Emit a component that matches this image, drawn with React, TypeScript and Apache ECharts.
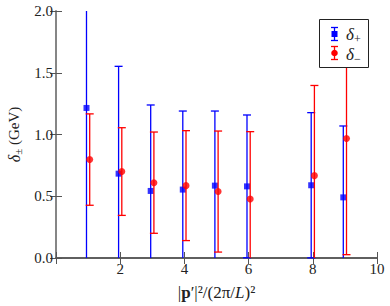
import React, { useEffect, useRef } from "react";
import * as echarts from "echarts";

const momenta = [1, 2, 3, 4, 5, 6, 8, 9];
const deltaPlus = [1.215, 0.683, 0.543, 0.554, 0.586, 0.58, 0.589, 0.491];
const deltaPlusErr = [1.3, 0.869, 0.696, 0.636, 0.604, 0.578, 0.588, 0.578];
const deltaMinus = [0.797, 0.7, 0.61, 0.586, 0.538, 0.478, 0.667, 0.967];
const deltaMinusErr = [0.37, 0.355, 0.41, 0.445, 0.49, 0.545, 0.73, 0.94];
const xTicks = [0, 2, 4, 6, 8, 10];
const yTicks = [0, 0.5, 1.0, 1.5, 2.0];

const FONT = "Liberation Serif";
const BLUE = "#0000ff";
const RED = "#ff0000";
const AXIS = "#555555";
const TEXT = "#222222";
const SHIFT = 0.05;

const Y_MIN = yTicks[0];
const Y_MAX = yTicks[yTicks.length - 1];

function errorBars(color: string) {
  return (params: any, api: any) => {
    const x = api.value(0);
    const y = api.value(1);
    const e = api.value(2);
    const loRaw = y - e;
    const hiRaw = y + e;
    const lo = Math.max(loRaw, Y_MIN);
    const hi = Math.min(hiRaw, Y_MAX);
    const pLo = api.coord([x, lo]);
    const pHi = api.coord([x, hi]);
    const cx = pLo[0];
    const hw = 4;
    const st = { stroke: color, lineWidth: 1.3 };
    const children: any[] = [
      { type: "line", shape: { x1: cx, y1: pLo[1], x2: cx, y2: pHi[1] }, style: st },
    ];
    if (loRaw >= Y_MIN) {
      children.push({ type: "line", shape: { x1: cx - hw, y1: pLo[1], x2: cx + hw, y2: pLo[1] }, style: st });
    }
    if (hiRaw <= Y_MAX) {
      children.push({ type: "line", shape: { x1: cx - hw, y1: pHi[1], x2: cx + hw, y2: pHi[1] }, style: st });
    }
    return { type: "group", children };
  };
}

export default function App() {
  const ref = useRef<HTMLDivElement>(null);
  useEffect(() => {
    if (!ref.current) return;
    const chart = echarts.init(ref.current, undefined, { renderer: "svg" });

    const plusData = momenta.map((m, i) => [m - SHIFT, deltaPlus[i], deltaPlusErr[i]]);
    const minusData = momenta.map((m, i) => [m + SHIFT, deltaMinus[i], deltaMinusErr[i]]);

    const axisLine = { show: true, lineStyle: { color: AXIS, width: 1.5 } };
    const tick = { show: true, inside: true, length: 6, lineStyle: { color: AXIS, width: 1 } };

    const Z = 100;
    const legendText = (txt: string, y: number) => ({
      type: "text",
      z: Z,
      x: 346,
      y,
      style: {
        text: txt,
        verticalAlign: "middle",
        rich: {
          d: { fontFamily: FONT, fontSize: 17, fontStyle: "italic", fill: TEXT },
          s: { fontFamily: FONT, fontSize: 12, fill: TEXT, padding: [9, 0, 0, 0] },
        },
      },
    });

    chart.setOption({
      animation: false,
      backgroundColor: "#ffffff",
      textStyle: { fontFamily: FONT },
      grid: { left: 56, right: 13, top: 11, bottom: 48, outerBoundsMode: "none", containLabel: false },
      xAxis: [
        {
          type: "value",
          min: xTicks[0],
          max: xTicks[xTicks.length - 1],
          interval: 2,
          axisLine,
          axisTick: tick,
          splitLine: { show: false },
          axisLabel: {
            fontFamily: FONT,
            fontSize: 15,
            color: TEXT,
            margin: 3,
            formatter: (v: number) => (v === 0 ? "" : String(v)),
          },
          name: "|{b|p}′|²/(2π/{i|L})²",
          nameLocation: "middle",
          nameGap: 26,
          nameTextStyle: {
            fontFamily: FONT,
            fontSize: 17,
            color: TEXT,
            rich: {
              b: { fontFamily: FONT, fontSize: 17, fontWeight: "bold", color: TEXT },
              i: { fontFamily: FONT, fontSize: 17, fontStyle: "italic", color: TEXT },
            },
          },
        },
        {
          type: "value",
          position: "top",
          min: xTicks[0],
          max: xTicks[xTicks.length - 1],
          interval: 2,
          axisLine,
          axisTick: tick,
          axisLabel: { show: false },
          splitLine: { show: false },
        },
      ],
      yAxis: [
        {
          type: "value",
          min: Y_MIN,
          max: Y_MAX,
          interval: 0.5,
          axisLine,
          axisTick: tick,
          splitLine: { show: false },
          axisLabel: {
            fontFamily: FONT,
            fontSize: 15,
            color: TEXT,
            margin: 3,
            formatter: (v: number) => v.toFixed(1),
          },
          name: "{d|δ}{s|±} (GeV)",
          nameLocation: "middle",
          nameRotate: 90,
          nameGap: 33,
          nameTextStyle: {
            fontFamily: FONT,
            fontSize: 15,
            color: TEXT,
            rich: {
              d: { fontFamily: FONT, fontSize: 16, fontStyle: "italic", color: TEXT },
              s: { fontFamily: FONT, fontSize: 11, color: TEXT, padding: [7, 0, 0, 0] },
            },
          },
        },
        {
          type: "value",
          position: "right",
          min: Y_MIN,
          max: Y_MAX,
          interval: 0.5,
          axisLine: { show: true, lineStyle: { color: "#888", width: 1.5 } },
          axisTick: tick,
          axisLabel: { show: false },
          splitLine: { show: false },
        },
      ],
      series: [
        { name: "δ+ err", type: "custom", renderItem: errorBars(BLUE), data: plusData, encode: { x: 0, y: 1 }, z: 2, silent: true },
        { name: "δ+", type: "scatter", symbol: "rect", symbolSize: 6, itemStyle: { color: BLUE }, data: plusData.map((d) => [d[0], d[1]]), z: 3 },
        { name: "δ− err", type: "custom", renderItem: errorBars(RED), data: minusData, encode: { x: 0, y: 1 }, z: 4, silent: true },
        { name: "δ−", type: "scatter", symbol: "circle", symbolSize: 7, itemStyle: { color: RED }, data: minusData.map((d) => [d[0], d[1]]), z: 5 },
      ],
      graphic: [
        { type: "rect", z: Z, shape: { x: 319.5, y: 19.5, width: 49, height: 48 }, style: { fill: "#ffffff", stroke: TEXT, lineWidth: 1 } },
        { type: "line", z: Z, shape: { x1: 334.5, y1: 27, x2: 334.5, y2: 41 }, style: { stroke: BLUE, lineWidth: 1.3 } },
        { type: "line", z: Z, shape: { x1: 331, y1: 27.5, x2: 338, y2: 27.5 }, style: { stroke: BLUE, lineWidth: 1.3 } },
        { type: "line", z: Z, shape: { x1: 331, y1: 40.5, x2: 338, y2: 40.5 }, style: { stroke: BLUE, lineWidth: 1.3 } },
        { type: "rect", z: Z, shape: { x: 331.5, y: 31, width: 6, height: 6 }, style: { fill: BLUE } },
        legendText("{d|δ}{s|+}", 34),
        { type: "line", z: Z, shape: { x1: 334.5, y1: 46, x2: 334.5, y2: 60 }, style: { stroke: RED, lineWidth: 1.3 } },
        { type: "line", z: Z, shape: { x1: 331, y1: 46.5, x2: 338, y2: 46.5 }, style: { stroke: RED, lineWidth: 1.3 } },
        { type: "line", z: Z, shape: { x1: 331, y1: 59.5, x2: 338, y2: 59.5 }, style: { stroke: RED, lineWidth: 1.3 } },
        { type: "circle", z: Z, shape: { cx: 334.5, cy: 53, r: 3.3 }, style: { fill: RED } },
        legendText("{d|δ}{s|−}", 54),
      ],
    });
    return () => chart.dispose();
  }, []);
  return <div ref={ref} style={{ width: 390, height: 306, position: "absolute", left: 0, top: 0 }} />;
}
